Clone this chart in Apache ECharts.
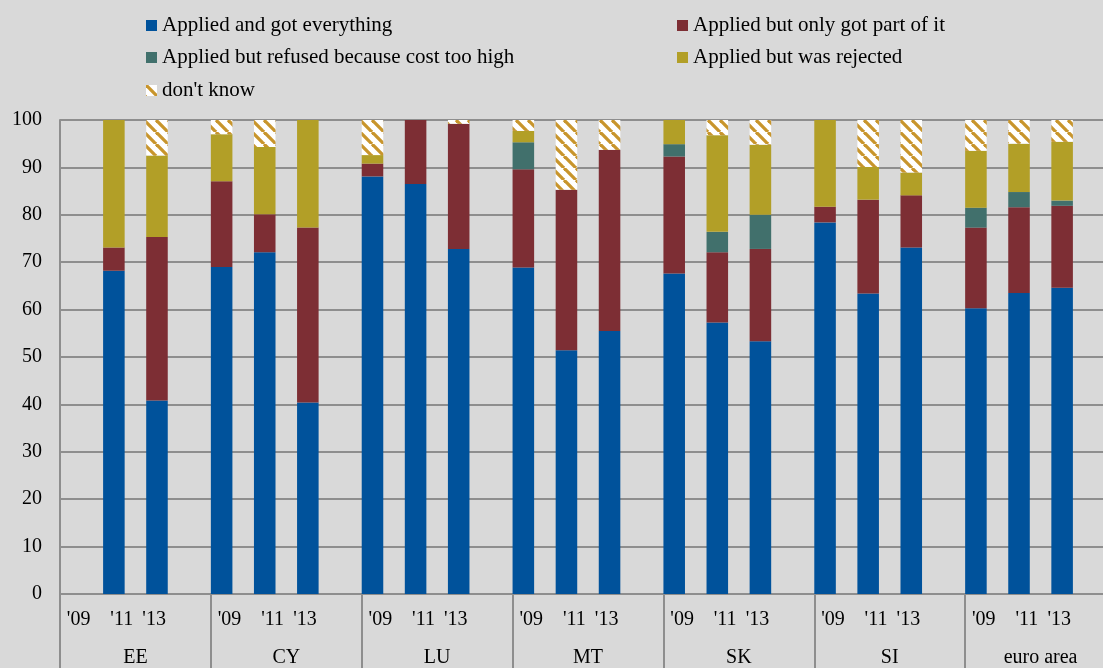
<!DOCTYPE html>
<html>
<head>
<meta charset="utf-8">
<script src="https://cdn.jsdelivr.net/npm/echarts@6/dist/echarts.min.js"></script>
<style>
  html, body { margin: 0; padding: 0; background: #d9d9d9; overflow: hidden; }
  #chart { width: 1120px; height: 668px; }
</style>
</head>
<body>
<div id="chart"></div>
<script>
const groups = ['EE', 'CY', 'LU', 'MT', 'SK', 'SI', 'euro area'];
const years = ["'09", "'11", "'13"];
const seriesNames = [
  'Applied and got everything',
  'Applied but only got part of it',
  'Applied but refused because cost too high',
  'Applied but was rejected',
  "don't know"
];

// values in order: group by group, '09 / '11 / '13 (null = no bar)
const gotEverything = [null, 68.2, 40.8, 69.0, 72.1, 40.4, 88.1, 86.5, 72.8, 68.9, 51.4, 55.5, 67.6, 57.3, 53.3, 78.4, 63.4, 73.1, 60.3, 63.5, 64.6];
const gotPart = [null, 4.9, 34.5, 18.1, 8.0, 36.9, 2.7, 13.5, 26.4, 20.7, 33.9, 38.2, 24.7, 14.8, 19.5, 3.3, 19.8, 11.0, 17.0, 18.1, 17.3];
const refusedCost = [null, 0, 0, 0, 0, 0, 0, 0, 0, 5.7, 0, 0, 2.6, 4.3, 7.2, 0, 0, 0, 4.2, 3.2, 1.1];
const rejected = [null, 26.9, 17.2, 9.9, 14.2, 22.7, 1.8, 0, 0, 2.4, 0, 0, 5.1, 20.4, 14.8, 18.3, 6.9, 4.8, 12.0, 10.2, 12.4];
const dontKnow = [null, 0, 7.5, 3.0, 5.7, 0, 7.4, 0, 0.8, 2.3, 14.7, 6.3, 0, 3.2, 5.2, 0, 9.9, 11.1, 6.5, 5.0, 4.6];

const colors = ['#00529b', '#7d2e34', '#41706c', '#b29f27'];
const font = "'Liberation Serif', 'Times New Roman', serif";

// each group: bar, gap, bar, gap, bar, gap, gap
const slotsPerGroup = 7;
const barSlots = [0, 2, 4];
const slots = [];
for (let g = 0; g < groups.length; g++) {
  for (let s = 0; s < slotsPerGroup; s++) slots.push(groups[g] + '-' + s);
}
function toSlots(values) {
  const out = new Array(slots.length).fill('-');
  values.forEach((v, i) => {
    const g = Math.floor(i / years.length);
    const y = i % years.length;
    out[g * slotsPerGroup + barSlots[y]] = v === null ? '-' : v;
  });
  return out;
}

// finer axis only for placing the year labels
const labelSlotsPerGroup = 14;
const yearLabelSlots = [1, 5, 8];
const yearLabels = [];
for (let g = 0; g < groups.length; g++) {
  for (let s = 0; s < labelSlotsPerGroup; s++) {
    const k = yearLabelSlots.indexOf(s);
    yearLabels.push(k >= 0 ? years[k] : '');
  }
}

// striped pattern for "don't know"
const pc = document.createElement('canvas');
pc.width = 12;
pc.height = 12;
const ctx = pc.getContext('2d');
ctx.fillStyle = '#ffffff';
ctx.fillRect(0, 0, 12, 12);
ctx.strokeStyle = '#c8952c';
ctx.lineWidth = 3.3;
[-12, 0, 12].forEach((o) => {
  ctx.beginPath();
  ctx.moveTo(o, 0);
  ctx.lineTo(o + 12, 12);
  ctx.stroke();
});
const stripe = { image: pc, repeat: 'repeat' };

const chart = echarts.init(document.getElementById('chart'));

const allValues = [gotEverything, gotPart, refusedCost, rejected, dontKnow];
const series = allValues.map((vals, i) => ({
  name: seriesNames[i],
  type: 'bar',
  stack: 'total',
  xAxisIndex: 0,
  barCategoryGap: '0%',
  barGap: '0%',
  itemStyle: { color: i < 4 ? colors[i] : stripe },
  data: toSlots(vals)
}));

const legendPos = [[146, 15], [677, 15], [146, 47], [677, 47], [146, 80]];
const legends = seriesNames.map((n, i) => ({
  data: [n],
  left: legendPos[i][0],
  top: legendPos[i][1],
  padding: 0,
  icon: 'rect',
  itemWidth: 11,
  itemHeight: 11,
  selectedMode: false,
  textStyle: { fontFamily: font, fontSize: 21, color: '#000' }
}));

const gray = '#8e8e8e';

chart.setOption({
  backgroundColor: '#d9d9d9',
  animation: false,
  legend: legends,
  grid: { left: 60, top: 120, width: 1056, height: 475 },
  xAxis: [
    {
      type: 'category',
      data: slots,
      axisLine: { show: true, lineStyle: { color: gray, width: 2 } },
      axisTick: { show: false },
      axisLabel: { show: false }
    },
    {
      type: 'category',
      data: yearLabels,
      position: 'bottom',
      axisLine: { show: false },
      axisTick: { show: false },
      axisLabel: {
        interval: 0,
        margin: 16,
        padding: [0, 0, 0, 5],
        fontFamily: font,
        fontSize: 20,
        color: '#000'
      }
    },
    {
      type: 'category',
      data: groups,
      position: 'bottom',
      axisLine: { show: false },
      axisTick: {
        show: true,
        interval: 0,
        length: 75,
        lineStyle: { color: gray, width: 2 }
      },
      axisLabel: {
        interval: 0,
        margin: 54,
        fontFamily: font,
        fontSize: 20,
        color: '#000'
      }
    }
  ],
  yAxis: {
    type: 'value',
    min: 0,
    max: 100,
    interval: 10,
    axisLine: { show: true, lineStyle: { color: gray, width: 2 } },
    axisTick: { show: false },
    splitLine: { lineStyle: { color: gray, width: 2 } },
    axisLabel: { margin: 18, fontFamily: font, fontSize: 20, color: '#000' }
  },
  series: series
});
</script>
</body>
</html>
